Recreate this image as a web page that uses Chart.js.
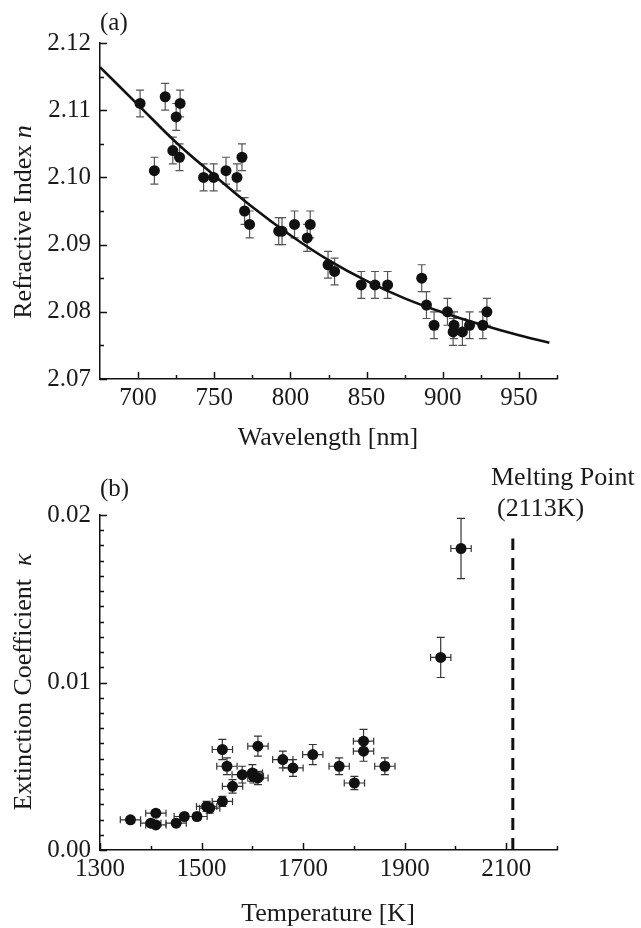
<!DOCTYPE html>
<html>
<head>
<meta charset="utf-8">
<script src="https://cdn.jsdelivr.net/npm/chart.js@4.4.1/dist/chart.umd.min.js"></script>
<style>
  html, body { margin: 0; padding: 0; background: #fff; }
  #wrap { position: relative; width: 641px; height: 928px; }
  canvas { position: absolute; left: 0; }
  #cA { top: 0; }
  #cB { top: 464px; }
</style>
</head>
<body>
<div id="wrap">
  <canvas id="cA" width="641" height="464"></canvas>
  <canvas id="cB" width="641" height="464"></canvas>
</div>
<script>
// (a) refractive index vs wavelength
const wavelength = [701.3, 710.7, 717.8, 722.8, 725.0, 727.2, 727.6, 743.0, 749.6, 757.7, 764.9, 768.2,
  769.9, 773.2, 792.3, 794.5, 802.7, 811.0, 813.0, 824.7, 829.0, 846.5, 855.5, 863.8, 886.2, 889.3,
  894.3, 903.1, 906.8, 907.4, 912.9, 917.6, 926.3, 929.0];
const refIndex = [2.111, 2.101, 2.112, 2.104, 2.109, 2.103, 2.111, 2.100, 2.100, 2.101, 2.100, 2.103,
  2.095, 2.093, 2.092, 2.092, 2.093, 2.091, 2.093, 2.087, 2.086, 2.084, 2.084, 2.084, 2.085, 2.081,
  2.078, 2.080, 2.077, 2.078, 2.077, 2.078, 2.078, 2.080];
const refIndexErr = 0.002;
// fitted curve
const fitWavelength = [675, 700, 725, 750, 775, 800, 825, 850, 875, 900, 925, 950, 970];
const fitIndex = [2.1164, 2.1108, 2.1052, 2.1003, 2.0956, 2.0914, 2.0877, 2.0846, 2.0820, 2.0799,
  2.0781, 2.0765, 2.0754];
const wlTicks = [700, 750, 800, 850, 900, 950];
const nTicks = [2.07, 2.08, 2.09, 2.10, 2.11, 2.12];

// (b) extinction coefficient vs temperature
const temperature = [1360, 1400, 1410, 1410, 1450, 1466, 1491, 1510, 1516, 1541, 1541, 1550, 1561,
  1580, 1600, 1602, 1611, 1611, 1660, 1680, 1719, 1771, 1801, 1819, 1819, 1861, 1971, 2011];
const kappa = [0.0018, 0.0016, 0.0022, 0.0015, 0.0016, 0.0020, 0.0020, 0.0026, 0.0025, 0.0029, 0.0060,
  0.0050, 0.0038, 0.0045, 0.0046, 0.0044, 0.0043, 0.0062, 0.0054, 0.0049, 0.0057, 0.0050, 0.0040,
  0.0065, 0.0059, 0.0050, 0.0115, 0.0180];
const kappaErr = [0.0002, 0.0002, 0.0002, 0.0002, 0.0002, 0.0002, 0.0002, 0.0003, 0.0003, 0.0003, 0.0006,
  0.0005, 0.0004, 0.0005, 0.0005, 0.0004, 0.0004, 0.0006, 0.0005, 0.0005, 0.0006, 0.0005, 0.0004,
  0.0007, 0.0006, 0.0005, 0.0012, 0.0018];
const tempErr = 20;
const tempTicks = [1300, 1500, 1700, 1900, 2100];
const kappaTicks = [0, 0.01, 0.02];
const meltingPoint = 2113;
const meltingTop = 0.0186;

const FONT = 'Liberation Serif';
const INK = '#111';

function pts(xs, ys) {
  return xs.map((v, i) => ({ x: v, y: ys[i] }));
}

function axis(min, max, ticks, fmt, size, isY) {
  return {
    type: 'linear', min: min, max: max,
    afterBuildTicks: s => { s.ticks = ticks.map(v => ({ value: v })); },
    afterFit: s => { if (isY) s.width = size; else s.height = size; },
    grid: { drawOnChartArea: false, drawTicks: false },
    border: { display: true, color: INK, width: 1.5 },
    ticks: { font: { size: 25, family: FONT }, color: '#1a1a1a', padding: isY ? 9 : 4, callback: fmt }
  };
}

// error bars under the points
function errorBars(xs, ys, xErr, yErr, color) {
  return {
    id: 'errbars',
    beforeDatasetsDraw(chart) {
      const { ctx, scales: { x, y } } = chart;
      ctx.save();
      ctx.strokeStyle = color;
      ctx.lineWidth = 1.2;
      xs.forEach((xv, i) => {
        const px = x.getPixelForValue(xv), py = y.getPixelForValue(ys[i]);
        const ey = Array.isArray(yErr) ? yErr[i] : yErr;
        ctx.beginPath();
        if (ey) {
          const y1 = y.getPixelForValue(ys[i] + ey), y2 = y.getPixelForValue(ys[i] - ey);
          ctx.moveTo(px, y1); ctx.lineTo(px, y2);
          ctx.moveTo(px - 4, y1); ctx.lineTo(px + 4, y1);
          ctx.moveTo(px - 4, y2); ctx.lineTo(px + 4, y2);
        }
        if (xErr) {
          const x1 = x.getPixelForValue(xv - xErr), x2 = x.getPixelForValue(xv + xErr);
          ctx.moveTo(x1, py); ctx.lineTo(x2, py);
          ctx.moveTo(x1, py - 3.5); ctx.lineTo(x1, py + 3.5);
          ctx.moveTo(x2, py - 3.5); ctx.lineTo(x2, py + 3.5);
        }
        ctx.stroke();
      });
      ctx.restore();
    }
  };
}

// inward tick marks, Origin style
function tickMarks(xMajor, xMinor, yMajor, yMinor) {
  return {
    id: 'tickmarks',
    afterDraw(chart) {
      const { ctx, chartArea: a, scales: { x, y } } = chart;
      ctx.save();
      ctx.strokeStyle = INK;
      ctx.lineWidth = 1.5;
      ctx.beginPath();
      const vx = (vals, len) => vals.forEach(v => {
        const p = Math.round(x.getPixelForValue(v)) + 0.5;
        ctx.moveTo(p, a.bottom); ctx.lineTo(p, a.bottom - len);
      });
      const vy = (vals, len) => vals.forEach(v => {
        const p = Math.round(y.getPixelForValue(v)) + 0.5;
        ctx.moveTo(a.left, p); ctx.lineTo(a.left + len, p);
      });
      vx(xMajor, 7); vx(xMinor, 4);
      vy(yMajor, 7); vy(yMinor, 4);
      ctx.stroke();
      ctx.restore();
    }
  };
}

function richText(ctx, parts, x, y, align, rotate) {
  ctx.save();
  ctx.translate(x, y);
  if (rotate) ctx.rotate(-Math.PI / 2);
  ctx.textBaseline = 'alphabetic';
  ctx.textAlign = 'left';
  ctx.fillStyle = '#1a1a1a';
  let w = 0;
  parts.forEach(p => { ctx.font = p.f; w += ctx.measureText(p.t).width; });
  let cx = align === 'center' ? -w / 2 : 0;
  parts.forEach(p => { ctx.font = p.f; ctx.fillText(p.t, cx, 0); cx += ctx.measureText(p.t).width; });
  ctx.restore();
}

function labels(items) {
  return {
    id: 'labels',
    afterDraw(chart) {
      items.forEach(it => richText(chart.ctx, it.parts, it.x, it.y, it.align, it.rotate));
    }
  };
}

const reg = s => s + 'px ' + FONT;
const ita = s => 'italic ' + s + 'px ' + FONT;

Chart.defaults.font.family = FONT;

// ---- chart (a)
new Chart(document.getElementById('cA'), {
  type: 'scatter',
  data: {
    datasets: [
      {
        data: pts(fitWavelength, fitIndex), showLine: true, tension: 0.4,
        borderColor: INK, borderWidth: 2.6, pointRadius: 0, order: 2
      },
      {
        data: pts(wavelength, refIndex), pointRadius: 5.5, pointBackgroundColor: INK,
        pointBorderWidth: 0, order: 1
      }
    ]
  },
  options: {
    responsive: false, animation: false, devicePixelRatio: 1,
    layout: { padding: { top: 43, right: 84, left: 0, bottom: 0 } },
    plugins: { legend: { display: false }, tooltip: { enabled: false } },
    scales: {
      x: axis(675, 975, wlTicks, v => String(v), 85, false),
      y: axis(2.07, 2.12, nTicks, v => v.toFixed(2), 100, true)
    }
  },
  plugins: [
    errorBars(wavelength, refIndex, 0, refIndexErr, '#555'),
    tickMarks(wlTicks, [725, 775, 825, 875, 925, 975], nTicks, [2.075, 2.085, 2.095, 2.105, 2.115]),
    labels([
      { parts: [{ t: '(a)', f: reg(25) }], x: 100, y: 30, align: 'left' },
      { parts: [{ t: 'Wavelength [nm]', f: reg(26) }], x: 328, y: 445, align: 'center' },
      { parts: [{ t: 'Refractive Index ', f: reg(26) }, { t: 'n', f: ita(26) }], x: 31, y: 222, align: 'center', rotate: true }
    ])
  ]
});

// ---- chart (b)
const kappaMinor = [];
for (let i = 0; i < kappaTicks.length - 1; i++) {
  for (let k = 1; k <= 10; k++) kappaMinor.push(kappaTicks[i] + k * (kappaTicks[i + 1] - kappaTicks[i]) / 11);
}

new Chart(document.getElementById('cB'), {
  type: 'scatter',
  data: {
    datasets: [
      {
        data: [{ x: meltingPoint, y: 0 }, { x: meltingPoint, y: meltingTop }], showLine: true,
        borderColor: INK, borderWidth: 3, borderDash: [12, 8], pointRadius: 0, order: 2
      },
      {
        data: pts(temperature, kappa), pointRadius: 5.5, pointBackgroundColor: INK,
        pointBorderWidth: 0, order: 1
      }
    ]
  },
  options: {
    responsive: false, animation: false, devicePixelRatio: 1,
    layout: { padding: { top: 51, right: 84, left: 0, bottom: 0 } },
    plugins: { legend: { display: false }, tooltip: { enabled: false } },
    scales: {
      x: axis(1300, 2200, tempTicks, v => String(v), 78, false),
      y: axis(0, 0.02, kappaTicks, v => v.toFixed(2), 100, true)
    }
  },
  plugins: [
    errorBars(temperature, kappa, tempErr, kappaErr, '#333'),
    tickMarks(tempTicks, [1400, 1600, 1800, 2000, 2200], kappaTicks, kappaMinor),
    labels([
      { parts: [{ t: '(b)', f: reg(25) }], x: 100, y: 32, align: 'left' },
      { parts: [{ t: 'Melting Point', f: reg(26) }], x: 491, y: 21, align: 'left' },
      { parts: [{ t: '(2113K)', f: reg(26) }], x: 497, y: 52, align: 'left' },
      { parts: [{ t: 'Temperature [K]', f: reg(26) }], x: 328, y: 457, align: 'center' },
      { parts: [{ t: 'Extinction Coefficient  ', f: reg(26) }, { t: 'κ', f: ita(26) }], x: 31, y: 218, align: 'center', rotate: true }
    ])
  ]
});
</script>
</body>
</html>
